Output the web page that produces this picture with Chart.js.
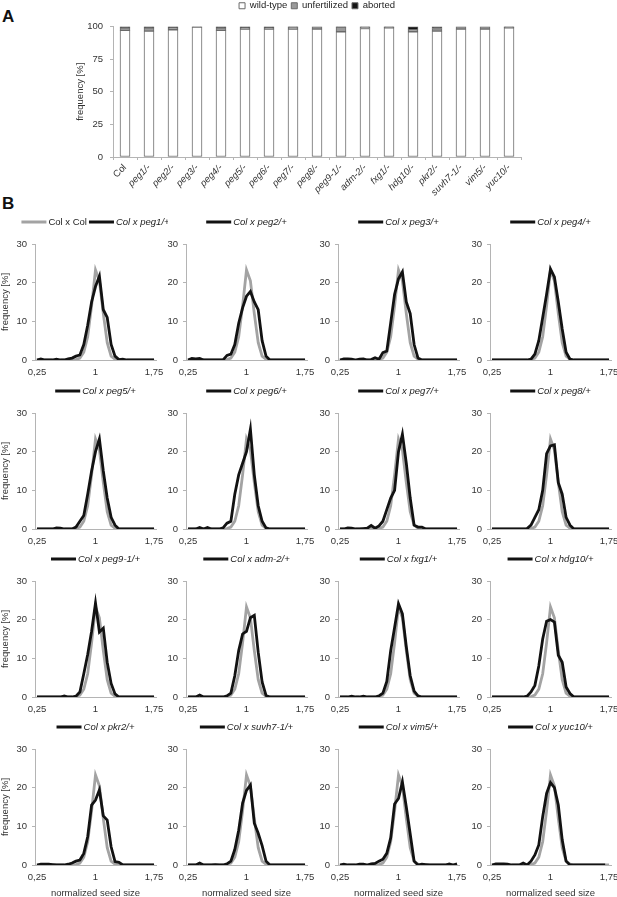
<!DOCTYPE html>
<html>

<head>
    <title>Seed size</title>
    <style>
        body { margin: 0; width: 617px; height: 897px; overflow: hidden; background: #fff; position: relative; }
        canvas { position: absolute; }
        .panel { position: absolute; left: 2px; font: bold 17px "Liberation Sans", Arial, sans-serif; line-height: 17px; color: #111; }
    </style>
</head>

<body>
    <div class="panel" style="top: 8px;">A</div>
    <div class="panel" style="top: 195px;">B</div>
    <canvas id="frequencyChart" width="617" height="208" style="left: 0; top: -3px;"></canvas>
    <div id="sizePanels"></div>

    <script src="https://cdn.jsdelivr.net/npm/chart.js"></script>
    <script>
        // panel A: seed phenotypes per line
        const genotypes = ['Col', 'peg1/-', 'peg2/-', 'peg3/-', 'peg4/-', 'peg5/-', 'peg6/-', 'peg7/-', 'peg8/-',
            'peg9-1/-', 'adm-2/-', 'fxg1/-', 'hdg10/-', 'pkr2/-', 'suvh7-1/-', 'vim5/-', 'yuc10/-'];
        const wildType = [97, 96.5, 97.5, 99.5, 97, 98, 98, 98, 98, 96, 98.5, 99, 96, 96.5, 98, 98, 99];
        const unfertilized = [2, 2.5, 1.5, 0, 2, 1, 1, 1.5, 2, 3.5, 1, 0.5, 1.5, 2, 2, 2, 0.5];
        const aborted = [1, 1, 1, 0.5, 1, 1, 1, 0.5, 0, 0.5, 0.5, 0.5, 2.5, 1.5, 0, 0, 0.5];
        const frequencyTicks = [0, 25, 50, 75, 100];

        // panel B: seed size distributions, bins of normalized seed size
        const sizeBins = [0.25, 0.30, 0.35, 0.40, 0.45, 0.50, 0.55, 0.60, 0.65, 0.70, 0.75, 0.80, 0.85, 0.90, 0.95,
            1.00, 1.05, 1.10, 1.15, 1.20, 1.25, 1.30, 1.35, 1.40, 1.45, 1.50, 1.55, 1.60, 1.65, 1.70, 1.75];
        const sizeTicks = [0.25, 1, 1.75];

        const colCol = [0, 0, 0, 0, 0, 0, 0, 0, 0, 0, 0.1, 0.5, 2, 6, 14, 23.3, 20.5, 12, 4.5, 1, 0.2, 0, 0, 0, 0, 0, 0, 0, 0, 0, 0];
        const peg1 = [0, 0.3, 0, 0, 0, 0.2, 0, 0, 0.3, 0.5, 1, 1.3, 4, 9, 15, 19, 21.7, 13, 11, 4, 1, 0.1, 0.2, 0, 0, 0, 0, 0, 0, 0, 0];
        const peg2 = [0, 0.4, 0.3, 0.4, 0, 0, 0, 0, 0, 0, 1.2, 1.5, 4, 9.5, 13.5, 16.5, 17.7, 15, 13, 5, 1, 0, 0, 0, 0, 0, 0, 0, 0, 0, 0];
        const peg3 = [0, 0.3, 0.3, 0.2, 0, 0.2, 0.3, 0, 0.1, 0.6, 0.2, 1.9, 2.3, 9.6, 17, 21, 22.8, 15, 12, 4, 0.5, 0, 0, 0, 0, 0, 0, 0, 0, 0, 0];
        const peg4 = [0, 0, 0, 0, 0, 0, 0, 0, 0, 0, 0.2, 1.5, 5, 11, 17, 23.5, 21.5, 15, 8, 2, 0.2, 0, 0, 0, 0, 0, 0, 0, 0, 0, 0];
        const peg5 = [0, 0, 0, 0, 0, 0.3, 0.2, 0, 0, 0, 0.5, 2, 3.5, 9, 15, 20, 23.3, 15, 8, 3, 1, 0, 0, 0, 0, 0, 0, 0, 0, 0, 0];
        const peg6 = [0, 0, 0, 0.4, 0, 0.4, 0, 0, 0, 0.3, 1.5, 2, 9, 14, 17, 20, 25.8, 14, 6, 2, 0.3, 0, 0, 0, 0, 0, 0, 0, 0, 0, 0];
        const peg7 = [0, 0, 0.3, 0.2, 0, 0, 0.1, 0.2, 0.9, 0.2, 0.8, 2, 5, 8, 10, 20, 24.5, 17, 8, 1, 0.5, 0.5, 0, 0, 0, 0, 0, 0, 0, 0, 0];
        const peg8 = [0, 0, 0, 0, 0, 0, 0, 0, 0, 0.1, 1, 3, 5, 10, 19.5, 21.5, 21.8, 12, 9, 3, 1, 0, 0, 0, 0, 0, 0, 0, 0, 0, 0];
        const peg91 = [0, 0, 0, 0, 0, 0, 0, 0.3, 0, 0, 0.2, 1.3, 6, 11, 17, 24.3, 16.8, 17.8, 9, 3.5, 0.8, 0, 0, 0, 0, 0, 0, 0, 0, 0, 0];
        const adm2 = [0, 0, 0, 0.5, 0, 0, 0, 0, 0, 0, 0.3, 1, 5.5, 12, 16.3, 17, 20.5, 21.1, 11.6, 3.9, 0.4, 0, 0, 0, 0, 0, 0, 0, 0, 0, 0];
        const fxg1 = [0, 0, 0, 0.2, 0, 0, 0.2, 0, 0, 0, 0.3, 1, 4, 12, 18, 24.1, 21.5, 13, 5.5, 1.5, 0.3, 0, 0, 0, 0, 0, 0, 0, 0, 0, 0];
        const hdg10 = [0, 0, 0, 0, 0, 0, 0, 0, 0, 0.2, 1.3, 3, 8, 15, 19.6, 20, 19.4, 10.8, 9, 2.6, 0.9, 0, 0, 0, 0, 0, 0, 0, 0, 0, 0];
        const pkr2 = [0, 0.2, 0.2, 0.2, 0.1, 0, 0, 0, 0.2, 0.5, 1, 1.3, 3, 7.3, 15.5, 16.8, 19.4, 12.7, 11.6, 4.7, 0.9, 0.7, 0, 0, 0, 0, 0, 0, 0, 0, 0];
        const suvh71 = [0, 0, 0, 0.5, 0, 0, 0, 0.1, 0, 0, 0.3, 1, 4, 9, 16, 19.3, 20.7, 10.8, 8.2, 5, 1, 0, 0, 0, 0, 0, 0, 0, 0, 0, 0];
        const vim5 = [0, 0.2, 0, 0, 0, 0.2, 0.2, 0, 0.3, 0.4, 1, 1.5, 3, 7, 15.8, 17.2, 21.5, 15, 8, 1, 0, 0.2, 0.1, 0, 0, 0, 0, 0, 0.3, 0, 0.3];
        const yuc10 = [0, 0.3, 0.3, 0.3, 0.2, 0, 0, 0, 0.5, 0, 1, 2.6, 5.2, 12.5, 18.5, 21.3, 20, 15.5, 6.5, 1, 0, 0, 0, 0, 0, 0, 0, 0, 0, 0];

        const crossLabels = ['Col x peg1/+', 'Col x peg2/+', 'Col x peg3/+', 'Col x peg4/+',
            'Col x peg5/+', 'Col x peg6/+', 'Col x peg7/+', 'Col x peg8/+',
            'Col x peg9-1/+', 'Col x adm-2/+', 'Col x fxg1/+', 'Col x hdg10/+',
            'Col x pkr2/+', 'Col x suvh7-1/+', 'Col x vim5/+', 'Col x yuc10/+'];
        const crossSeries = [peg1, peg2, peg3, peg4, peg5, peg6, peg7, peg8,
            peg91, adm2, fxg1, hdg10, pkr2, suvh71, vim5, yuc10];

        const FONT = '"Liberation Sans", Arial, sans-serif';
        Chart.defaults.font.family = FONT;
        Chart.defaults.font.size = 9.5;
        Chart.defaults.color = '#333';
        Chart.defaults.animation = false;

        const axisGray = '#b4b4b4';

        // extra room between the legend and the plot
        const legendSpace = {
            id: 'legendSpace',
            afterInit(chart, args, opts) {
                const legend = chart.legend;
                const fit = legend.fit;
                legend.fit = function () { fit.call(this); this.height += opts.extra; };
            },
        };

        // ---- panel A ----
        new Chart(document.getElementById('frequencyChart'), {
            type: 'bar',
            data: {
                labels: genotypes,
                datasets: [
                    { label: 'wild-type', data: wildType, backgroundColor: '#ffffff' },
                    { label: 'unfertilized', data: unfertilized, backgroundColor: '#9a9a9a' },
                    { label: 'aborted', data: aborted, backgroundColor: '#151515' },
                ].map(ds => ({ ...ds, borderColor: '#6a6a6a', borderWidth: 1, borderSkipped: false, barThickness: 10 })),
            },
            options: {
                responsive: false,
                layout: { padding: { left: 75, right: 96, top: 0, bottom: 0 } },
                plugins: {
                    legend: {
                        position: 'top',
                        fullSize: false,
                        labels: { boxWidth: 6, boxHeight: 6, padding: 4, color: '#222' },
                    },
                    legendSpace: { extra: 6 },
                    tooltip: { enabled: false },
                },
                scales: {
                    x: {
                        stacked: true,
                        grid: { display: true, drawOnChartArea: false, tickLength: 3, color: axisGray },
                        border: { color: axisGray },
                        ticks: {
                            autoSkip: false, minRotation: 45, maxRotation: 45, padding: 2,
                            font: (ctx) => ({ size: 9.5, style: ctx.index === 0 ? 'normal' : 'italic' }),
                        },
                        afterFit: (s) => { s.height = 48; s.paddingLeft = 0; s.paddingRight = 0; },
                    },
                    y: {
                        stacked: true,
                        min: 0, max: 100,
                        afterBuildTicks: (s) => { s.ticks = frequencyTicks.map(v => ({ value: v })); },
                        grid: { display: true, drawOnChartArea: false, tickLength: 3, color: axisGray },
                        border: { color: axisGray },
                        ticks: { padding: 7 },
                        title: { display: true, text: 'frequency [%]', padding: 0 },
                        afterFit: (s) => { s.width = 38; s.paddingTop = 0; s.paddingBottom = 0; },
                    },
                },
            },
            plugins: [legendSpace],
        });

        // ---- panel B ----
        // key drawn above each small plot: line sample + label, mutant label in italics
        const lineKey = {
            id: 'lineKey',
            afterDraw(chart) {
                const { ctx, chartArea } = chart;
                const items = chart.data.datasets.filter(ds => ds.showKey);
                const sample = 25, gap = 2, sep = 2;
                const fonts = items.map(ds => (ds.italicKey ? 'italic ' : '') + '9.5px ' + FONT);
                let total = 0;
                items.forEach((ds, i) => {
                    ctx.font = fonts[i];
                    total += sample + gap + ctx.measureText(ds.label).width + (i ? sep : 0);
                });
                let x = (chartArea.left + chartArea.right) / 2 - total / 2;
                const y = chartArea.top - 22;
                ctx.save();
                items.forEach((ds, i) => {
                    ctx.strokeStyle = ds.borderColor;
                    ctx.lineWidth = 3;
                    ctx.beginPath();
                    ctx.moveTo(x, y);
                    ctx.lineTo(x + sample, y);
                    ctx.stroke();
                    x += sample + gap;
                    ctx.font = fonts[i];
                    ctx.fillStyle = '#222';
                    ctx.textBaseline = 'middle';
                    ctx.fillText(ds.label, x, y);
                    x += ctx.measureText(ds.label).width + sep;
                });
                ctx.restore();
            },
        };

        const plotLeft = [35, 186, 338, 490];
        const plotTop = [244, 413, 581, 749];
        const plotW = 121, plotH = 116, yAxisW = 35, keySpace = 30, rightPad = 12;
        const holder = document.getElementById('sizePanels');

        crossSeries.forEach((series, i) => {
            const row = Math.floor(i / 4), col = i % 4;
            const lastRow = row === 3;
            const xAxisH = lastRow ? 34 : 20;
            const canvas = document.createElement('canvas');
            canvas.width = yAxisW + plotW + rightPad;
            canvas.height = keySpace + plotH + xAxisH;
            canvas.style.left = (plotLeft[col] - yAxisW) + 'px';
            canvas.style.top = (plotTop[row] - keySpace) + 'px';
            holder.appendChild(canvas);

            new Chart(canvas, {
                type: 'line',
                data: {
                    labels: sizeBins,
                    datasets: [
                        { label: 'Col x Col', data: colCol, borderColor: '#a3a3a3', order: 1, showKey: i === 0, italicKey: false },
                        { label: crossLabels[i], data: series, borderColor: '#121212', order: 0, showKey: true, italicKey: true },
                    ].map(ds => ({ ...ds, borderWidth: 2.8, pointRadius: 0, tension: 0, fill: false })),
                },
                options: {
                    responsive: false,
                    layout: { padding: { left: 0, right: rightPad, top: keySpace, bottom: 0 } },
                    plugins: { legend: { display: false }, tooltip: { enabled: false } },
                    scales: {
                        x: {
                            offset: true,
                            grid: { display: false, drawTicks: false },
                            border: { color: axisGray },
                            ticks: {
                                autoSkip: false, maxRotation: 0, minRotation: 0, padding: 7,
                                callback: (value, index) => sizeTicks.includes(sizeBins[index]) ? String(sizeBins[index]).replace('.', ',') : '',
                            },
                            title: { display: lastRow, text: 'normalized seed size', padding: 0 },
                            afterFit: (s) => { s.height = xAxisH; s.paddingLeft = 0; s.paddingRight = 0; },
                        },
                        y: {
                            min: 0, max: 30,
                            ticks: { stepSize: 10, padding: 5 },
                            grid: { display: true, drawOnChartArea: false, tickLength: 3, color: axisGray },
                            border: { color: axisGray },
                            title: { display: col === 0, text: 'frequency [%]', padding: 0 },
                            afterFit: (s) => { s.width = yAxisW; s.paddingTop = 0; s.paddingBottom = 0; },
                        },
                    },
                },
                plugins: [lineKey],
            });
        });
    </script>
</body>

</html>
